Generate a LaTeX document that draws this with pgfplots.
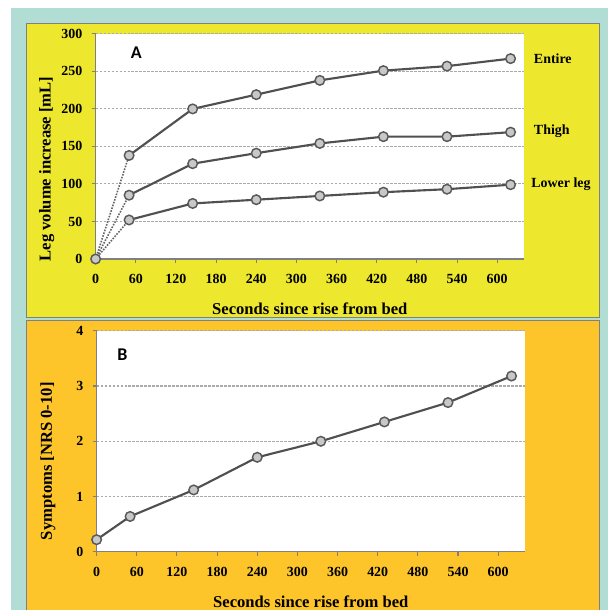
\documentclass[border=0pt]{standalone}
\usepackage{fontspec}
\setmainfont{Liberation Serif}
\newfontfamily\calibri{Carlito}
\usepackage{pgfplots}
\pgfplotsset{compat=1.18}
\definecolor{tealbg}{RGB}{178,221,213}
\definecolor{panelY}{RGB}{237,232,45}
\definecolor{panelO}{RGB}{253,197,42}
\definecolor{lineG}{RGB}{80,80,80}
\definecolor{markF}{RGB}{200,200,200}
\definecolor{gridG}{RGB}{170,170,170}

\pgfplotsset{
  panel/.style={
    scale only axis,
    width=322.5pt,
    anchor=south west,
    xmin=0, xmax=640,
    xtick={0,60,...,600},
    axis x line*=bottom, axis y line*=left,
    axis line style={gray, line width=0.8pt},
    tick align=outside, major tick length=3pt,
    tick style={gray, line width=0.8pt},
    ymajorgrids,
    major grid style={gridG, dash pattern=on 2pt off 1pt, line width=0.8pt},
    axis background/.style={fill=white},
    /pgf/number format/assume math mode=true,
    ticklabel style={font=\fontsize{10.5}{12}\selectfont\bfseries},
    xticklabel style={yshift=-5pt},
    yticklabel style={xshift=-3.5pt},
    label style={font=\fontsize{12.5}{14}\selectfont\bfseries},
    xlabel style={at={(axis description cs:0.5,0)}, anchor=center, yshift=-37.5pt},
    clip=false,
  },
  ser/.style={lineG, line width=1.6pt, mark=*, mark size=3.6pt,
    mark options={fill=markF, draw=gray!70!black, line width=1.1pt}},
  dots/.style={gray!80!black, densely dotted, line width=1.2pt, forget plot},
}

\begin{document}
\begin{tikzpicture}
  % background in pixel units (1px = 0.75pt)
  \begin{scope}[x=0.75pt, y=0.75pt]
    \fill[white] (0,0) rectangle (610,612);
    \useasboundingbox (0,0) rectangle (610,612);
    \fill[tealbg] (11,0) rectangle (610,604);
    \fill[panelY] (27,293) rectangle (602,588);
    \draw[gray, line width=0.8pt] (27,293) rectangle (602,588);
    \fill[panelO] (27,0) rectangle (602,290);
    \draw[gray, line width=0.8pt] (27,0) -- (27,290) -- (602,290) -- (602,0);
  \end{scope}

  % panel A
  \begin{axis}[panel,
      at={(72pt,264pt)},
      height=169.5pt,
      ymin=0, ymax=300, ytick={0,50,...,300},
      xlabel={Seconds since rise from bed},
      ylabel={Leg volume increase [mL]},
      ylabel style={at={(axis description cs:-0.114,0.40)}, anchor=center},
    ]
    \addplot[dots] coordinates {(0,0) (50,138)};
    \addplot[dots] coordinates {(0,0) (50,85)};
    \addplot[dots] coordinates {(0,0) (50,52)};
    \addplot[ser] coordinates {
      (50,138) (145,200) (240,219) (335,238) (430,251) (525,257) (620,267)};
    \addplot[ser] coordinates {
      (50,85) (145,127) (240,141) (335,154) (430,163) (525,163) (620,169)};
    \addplot[ser] coordinates {
      (50,52) (145,74) (240,79) (335,84) (430,89) (525,93) (620,99)};
    \addplot[ser] coordinates {(0,0)};
    \node[font=\calibri\fontsize{13.5}{15}\selectfont\bfseries] at (rel axis cs:0.095,0.916) {A};
    \node[anchor=west, xshift=4pt, font=\fontsize{10.5}{12}\selectfont\bfseries] at (axis cs:640,267) {Entire};
    \node[anchor=west, xshift=4pt, font=\fontsize{10.5}{12}\selectfont\bfseries] at (axis cs:640,170) {Thigh};
    \node[anchor=west, xshift=2pt, font=\fontsize{10.5}{12}\selectfont\bfseries] at (axis cs:640,99) {Lower leg};
  \end{axis}

  % panel B
  \begin{axis}[panel,
      at={(72.75pt,43.5pt)},
      height=166.5pt,
      ymin=0, ymax=4, ytick={0,1,...,4},
      xlabel={Seconds since rise from bed},
      ylabel={Symptoms [NRS 0-10]},
      ylabel style={at={(axis description cs:-0.114,0.41)}, anchor=center},
    ]
    \addplot[ser] coordinates {
      (0,0.22) (50,0.64) (145,1.12) (240,1.71) (335,2.00) (430,2.35) (525,2.70) (620,3.18)};
    \node[font=\calibri\fontsize{13.5}{15}\selectfont\bfseries] at (rel axis cs:0.06,0.89) {B};
  \end{axis}
\end{tikzpicture}
\end{document}
